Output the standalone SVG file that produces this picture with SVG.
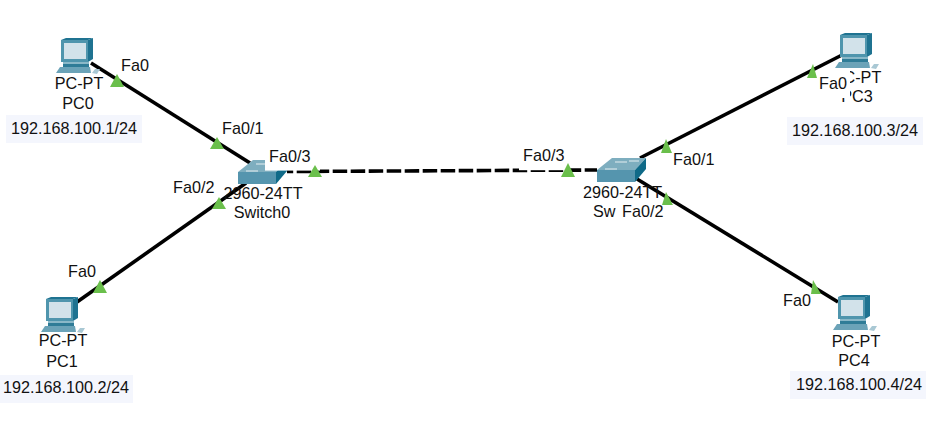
<svg xmlns="http://www.w3.org/2000/svg" width="943" height="428" viewBox="0 0 943 428">
<style>
text{font-family:"Liberation Sans",Arial,sans-serif;font-size:16.2px;fill:#111}
.m{text-anchor:middle}
.ip{fill:#f4f6fd}
.bg{fill:#fff}
.link{stroke:#000;stroke-width:3.6;fill:none}
.tri{fill:#6abf4b}
</style>
<defs>
<g id="pc">
<path d="M5 2L10 0H37L32 2Z" fill="#1f7391"/>
<path d="M32 2L37 0V21L32 24Z" fill="#1f7391"/>
<path d="M5 2H32V24H5Z" fill="#4f95ad"/>
<path d="M8 5H30V21H8Z" fill="#d2e2ea"/>
<path d="M7 24H33V26H7Z" fill="#8ab8c8"/>
<path d="M7 26H33V29H7Z" fill="#2f7c97"/>
<path d="M4 29H34L35 35H0Z" fill="#6ba3b8"/>
<path d="M36 35L39 31H44L41 36Z" fill="#a9c8d4"/>
</g>
<g id="sw">
<path d="M15 0H49L38 12H0Z" fill="#7eaebf"/>
<path d="M0 12H38V24H0Z" fill="#5595ae"/>
<path d="M38 12L49 0V11L38 24Z" fill="#0f6a88"/>
<path d="M18 4H30M8 11H20M32 3H42" stroke="#e4eef2" stroke-width="1.2"/>
</g>
</defs>
<g id="connectors">
<path class="link" d="M91 63L250 163"/>
<path class="link" d="M77 302L246 183"/>
<path class="link" d="M640 158L842 55"/>
<path class="link" d="M637 179L838 302"/>
<path class="link" d="M287 171.5L597 170" stroke-dasharray="14.5 3.5" stroke-dashoffset="8.3"/>
</g>
<g id="PC0"><use href="#pc" x="56" y="38"/><text class="m" x="79" y="89">PC-PT</text><text class="m" x="78" y="109">PC0</text><rect class="ip" x="6" y="115" width="136" height="28"/><text x="11" y="134">192.168.100.1/24</text></g>
<g id="PC1"><use href="#pc" x="41" y="297"/><text class="m" x="63" y="346">PC-PT</text><text class="m" x="62" y="367">PC1</text><rect class="ip" x="0" y="375" width="133" height="28"/><text x="3" y="393">192.168.100.2/24</text></g>
<g id="Switch0"><use href="#sw" x="238" y="160"/><text class="m" x="263" y="199">2960-24TT</text><text class="m" x="262" y="218">Switch0</text></g>
<g id="Switch1"><use href="#sw" x="597" y="158"/><text x="583" y="198">2960-24TT</text><text x="593" y="217">Sw</text></g>
<g id="PC3"><use href="#pc" x="835" y="33"/><text class="m" x="857" y="83">PC-PT</text><text class="m" x="857" y="102">PC3</text><rect class="ip" x="787" y="117" width="136" height="28"/><text x="792" y="136">192.168.100.3/24</text></g>
<g id="PC4"><use href="#pc" x="833" y="295"/><text class="m" x="856" y="347">PC-PT</text><text class="m" x="854" y="366">PC4</text><rect class="ip" x="790" y="371" width="136" height="28"/><text x="796" y="390">192.168.100.4/24</text></g>
<g id="labels">
<text x="121" y="71">Fa0</text>
<text x="222" y="134">Fa0/1</text>
<rect class="bg" x="265" y="148" width="55" height="22.6"/><text x="269" y="162">Fa0/3</text>
<text x="173" y="193">Fa0/2</text>
<text x="68" y="277">Fa0</text>
<rect class="bg" x="519" y="146" width="49" height="24.2"/><text x="523" y="161">Fa0/3</text>
<rect class="bg" x="671" y="152" width="42" height="18"/><text x="673" y="165">Fa0/1</text>
<rect class="bg" x="620" y="203" width="43" height="18"/><text x="622" y="217">Fa0/2</text>
<rect class="bg" x="817" y="70" width="33" height="28"/><text x="819" y="89">Fa0</text>
<text x="783" y="306">Fa0</text>
</g>
<g id="ports">
<polygon class="tri" points="117,74 110,87 124,87"/>
<polygon class="tri" points="217,137 210,149 224,149"/>
<polygon class="tri" points="315,165 308,177 322,177"/>
<polygon class="tri" points="219,197 212,209 226,209"/>
<polygon class="tri" points="100,280 93,293 107,293"/>
<polygon class="tri" points="568,163 561,177 575,177"/>
<polygon class="tri" points="666,139 661,153 672,153"/>
<polygon class="tri" points="666,192 662,205 673,205"/>
<polygon class="tri" points="813,64 807,78 817,78"/>
<polygon class="tri" points="813,280 811,294 821,294"/>
</g>
</svg>
